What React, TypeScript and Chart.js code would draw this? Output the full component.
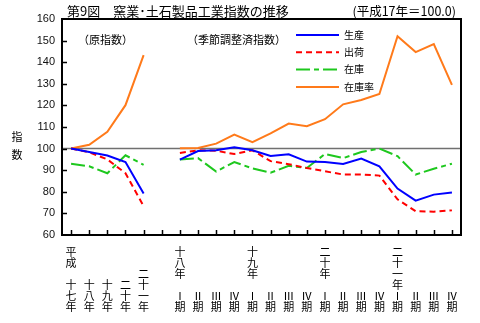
import React, { useEffect, useRef } from "react";
import { Chart, registerables } from "chart.js";

Chart.register(...registerables);

// ---- data ----
// 22 slots: 5 annual (原指数), 1 gap, 16 quarters (季節調整済指数)
const xLabels: string[][] = [
  ["平", "成", "", "十", "七", "年"],
  ["十", "八", "年"],
  ["十", "九", "年"],
  ["二", "十", "年"],
  ["二", "十", "一", "年"],
  [""],
  ["十", "八", "年", "", "Ⅰ", "期"],
  ["Ⅱ", "期"],
  ["Ⅲ", "期"],
  ["Ⅳ", "期"],
  ["十", "九", "年", "", "Ⅰ", "期"],
  ["Ⅱ", "期"],
  ["Ⅲ", "期"],
  ["Ⅳ", "期"],
  ["二", "十", "年", "", "Ⅰ", "期"],
  ["Ⅱ", "期"],
  ["Ⅲ", "期"],
  ["Ⅳ", "期"],
  ["二", "十", "一", "年", "Ⅰ", "期"],
  ["Ⅱ", "期"],
  ["Ⅲ", "期"],
  ["Ⅳ", "期"],
];

const production = [
  100, 98.4, 96.8, 93.8, 79.2,
  null,
  94.9, 98.9, 99.2, 100.6, 99.2, 96.6, 97.4, 94.0,
  93.8, 92.9, 95.4, 91.8, 81.5, 75.9, 78.7, 79.7,
];
const shipments = [
  100, 98.3, 95.0, 88.6, 73.3,
  null,
  98.0, 99.2, 99.0, 97.5, 99.2, 94.2, 92.8, 91.0,
  89.5, 88.0, 88.0, 87.5, 76.5, 71.0, 70.8, 71.4,
];
const inventory = [
  93.0, 91.8, 88.6, 96.9, 92.5,
  null,
  94.9, 95.6, 89.4, 93.8, 90.8, 88.8, 92.0, 91.0,
  97.5, 95.6, 98.4, 100.0, 96.5, 88.0, 90.7, 93.0,
];
const inventoryRatio = [
  100, 101.8, 107.8, 120.1, 143.3,
  null,
  100.2, 100.3, 102.3, 106.5, 103.0, 107.0, 111.6, 110.4,
  113.6, 120.5, 122.5, 125.3, 152.0, 144.7, 148.4, 129.5,
];

const seriesNames = ["生産", "出荷", "在庫", "在庫率"];
const seriesColors = ["#0000ff", "#ff0000", "#1ec81e", "#ff7a1a"];
const seriesDashes: number[][] = [[], [6, 4], [14, 4, 5, 4], []];

const yMin = 60;
const yMax = 160;
const yStep = 10;
const baseValue = 100;

const titleText = "第9図　窯業･土石製品工業指数の推移";
const baseText = "(平成17年＝100.0)";
const noteAnnual = "（原指数）";
const noteSeasonal = "（季節調整済指数）";
const yTitleChars = ["指", "数"];

const JP = '"Noto Sans CJK JP", "Noto Sans", sans-serif';
const NUM = '"Liberation Sans", Arial, sans-serif';

const decorPlugin = {
  id: "decor",
  beforeDatasetsDraw(chart: any) {
    const { ctx, chartArea: a, scales } = chart;
    const y = scales.y;
    const yb = y.getPixelForValue(baseValue);
    ctx.save();
    ctx.strokeStyle = "#707070";
    ctx.lineWidth = 1.5;
    ctx.beginPath();
    ctx.moveTo(a.left, yb);
    ctx.lineTo(a.right, yb);
    ctx.stroke();
    ctx.restore();
  },
  afterDraw(chart: any) {
    const { ctx, chartArea: a, scales } = chart;
    const x = scales.x;
    const y = scales.y;
    ctx.save();
    // frame
    ctx.strokeStyle = "#000";
    ctx.lineWidth = 2;
    ctx.strokeRect(a.left, a.top, a.right - a.left, a.bottom - a.top);
    // inward ticks
    ctx.lineWidth = 1.5;
    ctx.beginPath();
    for (let v = yMin + yStep; v < yMax; v += yStep) {
      const py = Math.round(y.getPixelForValue(v)) + 0.5;
      ctx.moveTo(a.left, py);
      ctx.lineTo(a.left + 5, py);
    }
    for (let i = 0; i < xLabels.length; i++) {
      const px = Math.round(x.getPixelForValue(i)) + 0.5;
      ctx.moveTo(px, a.bottom);
      ctx.lineTo(px, a.bottom - 5);
    }
    ctx.stroke();

    // texts
    ctx.fillStyle = "#000";
    ctx.textBaseline = "middle";
    ctx.textAlign = "left";
    ctx.font = `13px ${JP}`;
    ctx.fillText(titleText, 67, 11);
    ctx.textAlign = "right";
    ctx.font = `12.5px ${JP}`;
    ctx.fillText(baseText, 456, 11);

    ctx.textAlign = "left";
    ctx.font = `11px ${JP}`;
    ctx.fillText(noteAnnual, 78, 40);
    ctx.fillText(noteSeasonal, 187, 40);

    ctx.textAlign = "center";
    ctx.font = `11px ${JP}`;
    ctx.fillText(yTitleChars[0], 17, 137);
    ctx.fillText(yTitleChars[1], 17, 155);

    // legend
    const lx0 = a.right - 165;
    const lx1 = a.right - 122;
    ctx.textAlign = "left";
    ctx.font = `10px ${JP}`;
    seriesNames.forEach((name, i) => {
      const ly = a.top + 16 + i * 17.3;
      ctx.strokeStyle = seriesColors[i];
      ctx.lineWidth = 2;
      ctx.setLineDash(seriesDashes[i]);
      ctx.beginPath();
      ctx.moveTo(lx0, ly);
      ctx.lineTo(lx1, ly);
      ctx.stroke();
      ctx.setLineDash([]);
      ctx.fillStyle = "#000";
      ctx.fillText(name, lx1 + 5, ly);
    });
    ctx.restore();
  },
};

export default function App() {
  const ref = useRef<HTMLCanvasElement | null>(null);

  useEffect(() => {
    document.body.style.margin = "0";
    const canvas = ref.current;
    if (!canvas) return;
    const seriesData = [production, shipments, inventory, inventoryRatio];
    const chart = new Chart(canvas, {
      type: "line",
      data: {
        labels: xLabels,
        datasets: seriesData.map((d, i) => ({
          label: seriesNames[i],
          data: d,
          borderColor: seriesColors[i],
          backgroundColor: seriesColors[i],
          borderDash: seriesDashes[i],
          borderWidth: 2,
          pointRadius: 0,
          tension: 0,
          spanGaps: false,
          fill: false,
        })),
      },
      options: {
        animation: false,
        responsive: false,
        maintainAspectRatio: false,
        layout: { padding: { left: 0, right: 19, top: 19, bottom: 0 } },
        plugins: {
          legend: { display: false },
          tooltip: { enabled: false },
          title: { display: false },
        },
        scales: {
          x: {
            type: "category",
            offset: true,
            grid: { display: false, drawTicks: false },
            border: { display: false },
            ticks: {
              autoSkip: false,
              maxRotation: 0,
              minRotation: 0,
              crossAlign: "far",
              padding: 17,
              color: "#000",
              font: { family: JP, size: 11, lineHeight: "11px" },
            },
            afterFit: (s: any) => {
              s.height = 88;
            },
          },
          y: {
            min: yMin,
            max: yMax,
            ticks: {
              stepSize: yStep,
              padding: 7,
              color: "#111",
              font: { family: NUM, size: 11 },
            },
            grid: { display: false, drawTicks: false },
            border: { display: false },
            afterFit: (s: any) => {
              s.width = 62;
            },
          },
        },
      } as any,
      plugins: [decorPlugin],
    });
    return () => chart.destroy();
  }, []);

  return (
    <div style={{ width: 480, height: 323, position: "relative", background: "#fff" }}>
      <canvas ref={ref} width={480} height={323} style={{ display: "block" }} />
    </div>
  );
}
